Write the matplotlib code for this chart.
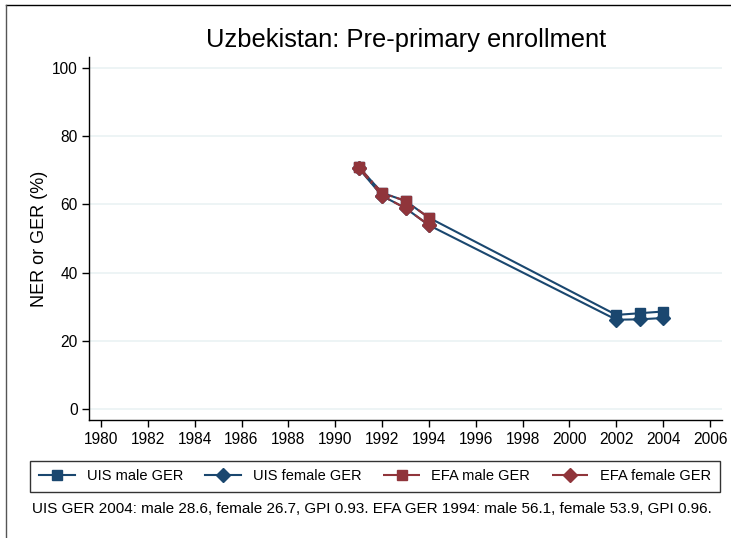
import matplotlib
matplotlib.use("Agg")
import matplotlib.pyplot as plt
from matplotlib.lines import Line2D

plt.rcParams['font.family'] = ['Liberation Sans', 'DejaVu Sans']

years_early = [1991, 1992, 1993, 1994]
years_uis = [1991, 1992, 1993, 1994, 2002, 2003, 2004]
uis_male = [71.0, 63.4, 61.0, 56.1, 27.6, 28.1, 28.6]
uis_female = [70.6, 62.5, 58.9, 53.9, 26.2, 26.3, 26.7]
efa_male = [71.0, 63.4, 61.0, 56.1]
efa_female = [70.8, 62.5, 58.9, 53.9]

xticks = list(range(1980, 2007, 2))
yticks = [0, 20, 40, 60, 80, 100]

navy = '#1A476F'
maroon = '#90353B'

fig = plt.figure(figsize=(7.31, 5.38), dpi=100)
W, H = 731, 538
ax = fig.add_axes([89 / W, 1 - 420 / H, (722 - 89) / W, (420 - 57) / H])

ax.plot(years_uis, uis_male, color=navy, lw=1.5, marker='s', ms=7.5, label='UIS male GER', zorder=3)
ax.plot(years_uis, uis_female, color=navy, lw=1.5, marker='D', ms=7.5, label='UIS female GER', zorder=3)
ax.plot(years_early, efa_male, color=maroon, lw=1.5, ls=(0, (7, 2, 1, 2)), marker='s', ms=7.5,
        label='EFA male GER', zorder=4)
ax.plot(years_early, efa_female, color=maroon, lw=1.5, ls=(0, (7, 2, 1, 2)), marker='D', ms=7.5,
        label='EFA female GER', zorder=4)

ax.set_xlim(1979.49, 2006.51)
ax.set_ylim(-3.2, 103.2)
ax.set_xticks(xticks)
ax.set_yticks(yticks)
ax.tick_params(axis='both', direction='out', length=5, width=1, labelsize=11.2, color='black')
ax.tick_params(axis='y', pad=3)
ax.grid(axis='y', color='#EAF2F3', lw=1.2)
ax.set_axisbelow(True)
for s in ['top', 'right']:
    ax.spines[s].set_visible(False)
for s in ['left', 'bottom']:
    ax.spines[s].set_linewidth(1)
ax.set_ylabel('NER or GER (%)', fontsize=13, labelpad=3)

fig.text(406 / W, 1 - 40 / H, 'Uzbekistan: Pre-primary enrollment', ha='center', va='center', fontsize=18.4)

handles, labels = ax.get_legend_handles_labels()
leg = fig.legend(handles, labels, loc='lower left', ncol=4, mode='expand',
                 bbox_to_anchor=(30 / W, 1 - 492 / H, 690 / W, 35 / H),
                 fontsize=10.5, frameon=True, fancybox=False, edgecolor='black',
                 handlelength=2.5, borderaxespad=0, handletextpad=0.8, borderpad=0.6)
leg.get_frame().set_linewidth(1)

fig.text(32 / W, 1 - 509 / H,
         'UIS GER 2004: male 28.6, female 26.7, GPI 0.93. EFA GER 1994: male 56.1, female 53.9, GPI 0.96.',
         ha='left', va='center', fontsize=11)

fig.add_artist(Line2D([6 / W, 1.0], [1 - 5 / H, 1 - 5 / H], transform=fig.transFigure, color='black', lw=1))
fig.add_artist(Line2D([6 / W, 6 / W], [0, 1 - 5 / H], transform=fig.transFigure, color='#555555', lw=1))

fig.savefig('out.png', dpi=100)
